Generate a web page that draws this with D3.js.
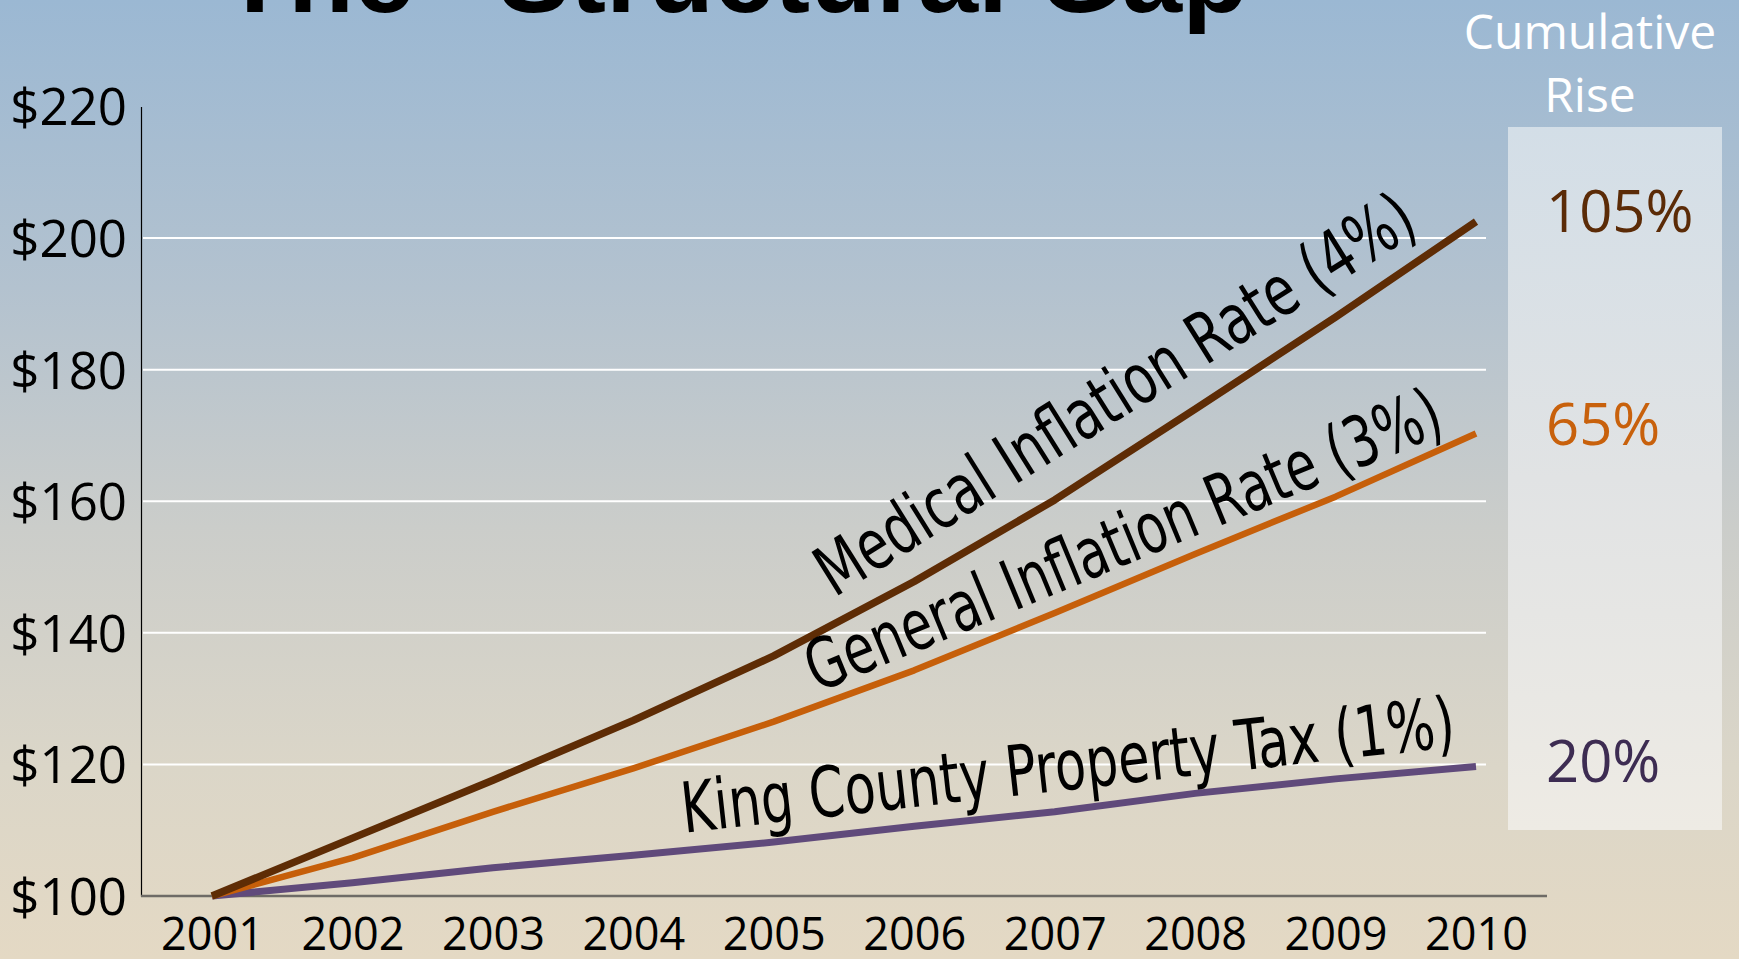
<!DOCTYPE html>
<html><head><meta charset="utf-8">
<script src="https://cdn.jsdelivr.net/npm/d3@7"></script>
<style>body{margin:0;overflow:hidden;background:#e4d9c5}</style>
</head><body>
<svg id="c" width="1739" height="959"></svg>
<script>
// ---- data ----
const years = [2001,2002,2003,2004,2005,2006,2007,2008,2009,2010];
const medical  = [100,108.8,117.6,126.7,136.5,147.8,160.2,174.0,188.0,202.5];
const general  = [100,105.8,112.8,119.4,126.5,134.3,143.0,152.0,160.7,170.3];
const property = [100,102.0,104.3,106.2,108.2,110.6,112.8,115.6,117.8,119.7];
const yTicks = [100,120,140,160,180,200,220];
const gridValues = [120,140,160,180,200];
const seriesNames = ["Medical Inflation Rate (4%)","General Inflation Rate (3%)","King County Property Tax (1%)"];
const cumulative = ["105%","65%","20%"];
const titleText = "The \u201CStructural Gap\u201D";
const sideTitle = ["Cumulative","Rise"];

// ---- styles / layout ----
const colors = ["#5e2c05","#c65f0a","#604a7b"];
const pctColors = ["#5b2b07","#c8610c","#3d2c52"];
const widths = [7.5,6.5,7];
// label anchors in data space [year, value], angle in degrees, length px
const labelCfg = [
  {at:[2005.43,145.3], angle:-32, len:692},
  {at:[2005.31,130.9], angle:-22.5, len:682},
  {at:[2004.36,109.6], angle:-6.4, len:778}
];
const pctDy = [10,12,16];

const svg = d3.select("#c");
const W = 1739, H = 959;

const defs = svg.append("defs");
const bg = defs.append("linearGradient").attr("id","bg").attr("x1",0).attr("y1",0).attr("x2",0).attr("y2",1);
[[0,"#9bb8d3"],[0.3,"#b3c2cf"],[0.55,"#cbcdca"],[0.8,"#dbd6c8"],[1,"#e4d9c4"]].forEach(s=>bg.append("stop").attr("offset",s[0]).attr("stop-color",s[1]));
const pg = defs.append("linearGradient").attr("id","pg").attr("x1",0).attr("y1",0).attr("x2",0).attr("y2",1);
[[0,"#d3dee7"],[0.5,"#e1e3e4"],[1,"#eeebe4"]].forEach(s=>pg.append("stop").attr("offset",s[0]).attr("stop-color",s[1]));

svg.append("rect").attr("width",W).attr("height",H).attr("fill","url(#bg)");

const x = d3.scaleLinear().domain([2001,2010]).range([212,1476]);
const y = d3.scaleLinear().domain([100,220]).range([896,106.5]);

// title (cut off at top)
svg.append("text").attr("x",222).attr("y",12)
  .attr("font-family","Liberation Sans, Arial, sans-serif").attr("font-weight","bold")
  .attr("font-size",108).attr("fill","#000").text(titleText);

// side panel
svg.append("rect").attr("x",1508).attr("y",127).attr("width",214).attr("height",703).attr("fill","url(#pg)");
svg.append("g").selectAll("text").data(sideTitle).join("text")
  .attr("x",1590).attr("y",(d,i)=>49+i*63)
  .attr("text-anchor","middle").attr("fill","#ffffff")
  .attr("font-family","Open Sans, sans-serif").attr("font-size",48).text(d=>d);

// gridlines
svg.append("g").selectAll("line").data(gridValues).join("line")
  .attr("x1",143).attr("x2",1486).attr("y1",d=>y(d)).attr("y2",d=>y(d))
  .attr("stroke","#ffffff").attr("stroke-width",2);

// y axis
const yAxis = d3.axisLeft(y).tickValues(yTicks).tickFormat(d=>"$"+d).tickSize(0).tickPadding(14);
const gy = svg.append("g").attr("transform","translate(141,0)").call(yAxis);
gy.select(".domain").attr("stroke","#000").attr("stroke-width",1.2);
gy.selectAll("text").attr("font-family","Open Sans, sans-serif").attr("font-size",51).attr("fill","#000").attr("dy","0.36em");

// x axis
const xAxis = d3.axisBottom(x).tickValues(years).tickFormat(d3.format("d")).tickSize(0).tickPadding(22);
const gx = svg.append("g").attr("transform","translate(0,896)").call(xAxis);
gx.select(".domain").remove();
gx.selectAll("text").attr("font-family","Open Sans, sans-serif").attr("font-size",45).attr("fill","#000");
svg.append("line").attr("x1",141).attr("x2",1547).attr("y1",896).attr("y2",896).attr("stroke","#6e6b66").attr("stroke-width",2.5);

// lines
const series = [medical, general, property];
const line = d3.line().x((d,i)=>x(years[i])).y(d=>y(d));
[2,1,0].forEach(k=>{
  svg.append("path").datum(series[k]).attr("d",line).attr("fill","none")
    .attr("stroke",colors[k]).attr("stroke-width",widths[k]).attr("stroke-linejoin","round");
});

// line labels
labelCfg.forEach((c,i)=>{
  const px = x(c.at[0]), py = y(c.at[1]);
  svg.append("text").attr("transform",`translate(${px},${py}) rotate(${c.angle})`)
    .attr("font-family","Liberation Sans Narrow, DejaVu Sans Condensed, Arial Narrow, sans-serif")
    .attr("font-size",70).attr("fill","#000")
    .attr("textLength",c.len).attr("lengthAdjust","spacingAndGlyphs")
    .text(seriesNames[i]);
});

// cumulative percentages
series.forEach((s,i)=>{
  svg.append("text").attr("x",1546).attr("y",y(s[s.length-1])+pctDy[i])
    .attr("font-family","Open Sans, sans-serif").attr("font-size",58)
    .attr("fill",pctColors[i]).text(cumulative[i]);
});
</script>
</body></html>
